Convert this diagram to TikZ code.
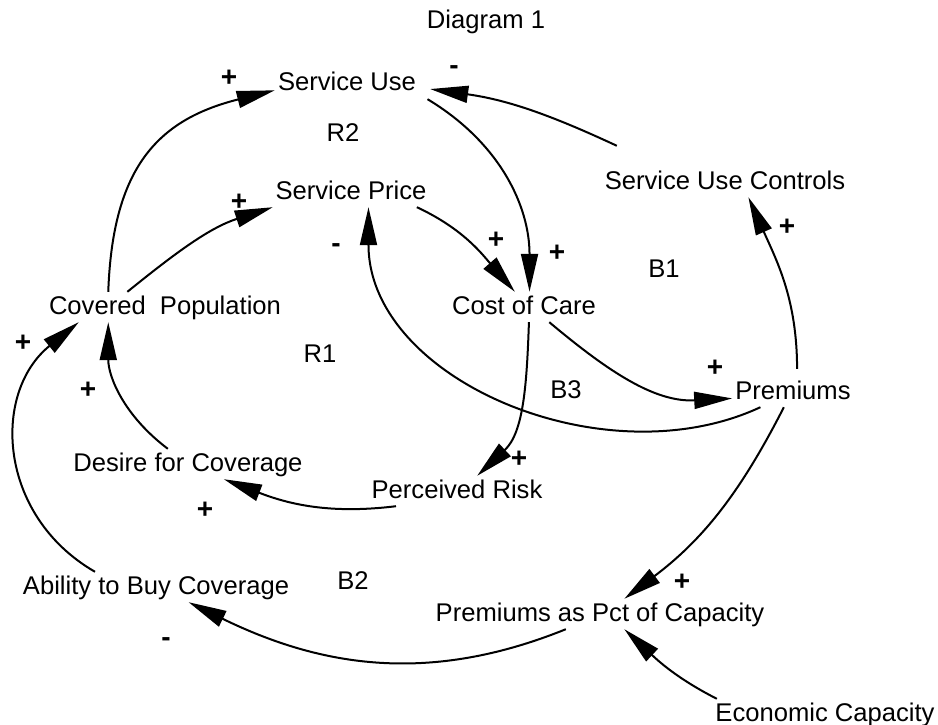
\documentclass[tikz,border=0pt]{standalone}
\usepackage{fontspec}
\setmainfont{Liberation Sans}
\usetikzlibrary{arrows.meta}

\begin{document}
\begin{tikzpicture}[x=1pt, y=-1pt,
    var/.style={inner sep=3pt, text height=19pt, text depth=5pt, font=\fontsize{25.6}{30}\selectfont},
    sign/.style={inner sep=0pt, font=\bfseries\fontsize{28}{30}\selectfont},
    link/.style={line width=2pt, -{Triangle[length=38pt, width=17pt]}}]
    \useasboundingbox (0,0) rectangle (938,725);

    \node[var] (title) at (486,22) {Diagram 1};
    \node[var] (service use) at (347,84) {Service Use};
    \node[var] (service price) at (351,192) {Service Price};
    \node[var] (covered population) at (165,307) {Covered\ \ Population};
    \node[var] (service use controls) at (725,182) {Service Use Controls};
    \node[var] (cost of care) at (524,307) {Cost of Care};
    \node[var] (premiums) at (793,392) {Premiums};
    \node[var] (perceived risk) at (457,491) {Perceived Risk};
    \node[var] (desire for coverage) at (188,464) {Desire for Coverage};
    \node[var] (ability to buy coverage) at (156,587) {Ability to Buy Coverage};
    \node[var] (premiums as pct) at (600,614) {Premiums as Pct of Capacity};
    \node[var] (economic capacity) at (825,714) {Economic Capacity};

    \node[var] (r2) at (343,135) {R2};
    \node[var] (r1) at (320,355) {R1};
    \node[var] (b1) at (664,270) {B1};
    \node[var] (b3) at (566,391) {B3};
    \node[var] (b2) at (353,582) {B2};

    \node[sign] (plus su) at (229,78) {+};
    \node[sign] (minus su) at (454,70) {-};
    \node[sign] (plus sp) at (239,202) {+};
    \node[sign] (minus sp) at (336,248) {-};
    \node[sign] (plus coc a) at (496,240) {+};
    \node[sign] (plus coc b) at (557,253) {+};
    \node[sign] (plus suc) at (787,227) {+};
    \node[sign] (plus prem) at (715,368) {+};
    \node[sign] (plus pr) at (519,459) {+};
    \node[sign] (plus ppc) at (682,582) {+};
    \node[sign] (minus abc) at (166,642) {-};
    \node[sign] (plus dfc) at (205,510) {+};
    \node[sign] (plus cp a) at (88,390) {+};
    \node[sign] (plus cp b) at (23,343) {+};

    \draw[link] (covered population.165) to[out=88, in=194, looseness=1.2] (service use.185);
    \draw[link] (covered population.158) to[out=39, in=198] (service price.191);
    \draw[link] ([yshift=21pt]service use controls.172) to[out=155, in=352] ([xshift=11pt]service use.356);
    \draw[link] ([xshift=9pt]service use.348) to[out=329, in=90] (cost of care.70);
    \draw[link] (service price.347) to[out=335, in=131] (cost of care.121);
    \draw[link] ([yshift=8pt]premiums.75) to[out=90, in=294] (service use controls.327);
    \draw[link] (cost of care.329) to[out=320, in=183] (premiums.186);
    \draw[link] (cost of care.288) to[out=268, in=43] (perceived risk.37);
    \draw[link] (premiums.205) to[out=205, in=270] (service price.319);
    \draw[link] (premiums.239) to[out=243, in=37] (premiums as pct.32);
    \draw[link] (economic capacity.172) to[out=153, in=317] (premiums as pct.328);
    \draw[link] (premiums as pct.204) to[out=202, in=334] (ability to buy coverage.335);
    \draw[link] (perceived risk.194) to[out=187, in=339] (desire for coverage.337);
    \draw[link] (desire for coverage.143) to[out=143, in=270] (covered population.195);
    \draw[link] (ability to buy coverage.166) to[out=150, in=219, looseness=1.15] (covered population.190);
\end{tikzpicture}
\end{document}
